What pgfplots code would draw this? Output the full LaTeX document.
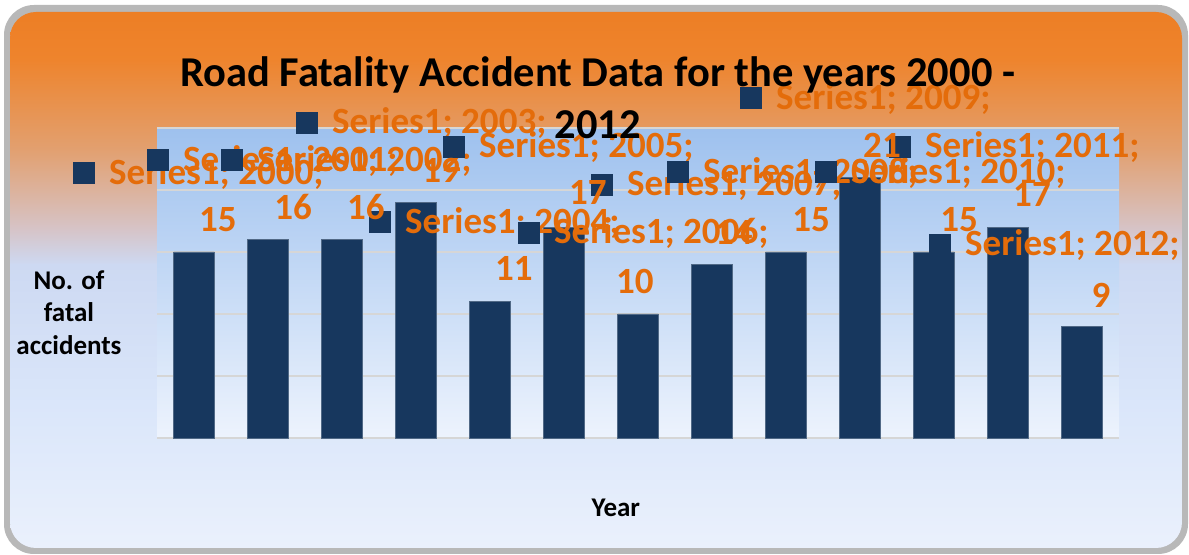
\documentclass[border=0pt]{standalone}
\usepackage{pgfplots}
\pgfplotsset{compat=1.18}
\usepackage{fontspec}
\setmainfont{Carlito}
\definecolor{navy}{RGB}{23,55,94}
\definecolor{lab}{RGB}{228,108,10}
\definecolor{bgA}{RGB}{237,125,35}
\definecolor{bgB}{RGB}{238,132,45}
\definecolor{bgC}{RGB}{226,160,112}
\definecolor{bgD}{RGB}{214,196,200}
\definecolor{bgE}{RGB}{205,217,242}
\definecolor{bgF}{RGB}{218,230,250}
\definecolor{bgG}{RGB}{235,241,252}
\definecolor{paTop}{RGB}{158,193,238}
\definecolor{paBot}{RGB}{237,243,253}
\newcommand{\lf}{\fontsize{37bp}{42bp}\selectfont\bfseries}
\newcommand{\sq}{\textcolor{navy}{\rule{22bp}{22bp}}\hspace{14bp}}
\begin{document}
\begin{tikzpicture}[x=1bp,y=1bp]
\useasboundingbox (0,0) rectangle (1189,555);
\fill[black!28, rounded corners=30bp] (4,1) rectangle (1188,550);
\begin{scope}
\clip[rounded corners=26bp] (10,7) rectangle (1182,543);
\shade[top color=bgA,bottom color=bgB] (0,495) rectangle (1189,555);
\shade[top color=bgB,bottom color=bgC] (0,405) rectangle (1189,495.5);
\shade[top color=bgC,bottom color=bgD] (0,325) rectangle (1189,405.5);
\shade[top color=bgD,bottom color=bgE] (0,290) rectangle (1189,325.5);
\shade[top color=bgE,bottom color=bgF] (0,150) rectangle (1189,290.5);
\shade[top color=bgF,bottom color=bgG] (0,0) rectangle (1189,150.5);
\end{scope}
\begin{axis}[
  at={(157bp,117bp)}, anchor=south west,
  scale only axis, width=962bp, height=310bp,
  xmin=-0.5, xmax=12.5, ymin=0, ymax=25,
  ytick={0,5,...,25}, xtick=\empty, yticklabels={},
  ymajorgrids, grid style={black!16, line width=1.8bp},
  axis line style={draw=none}, major tick length=0pt,
  axis background/.style={top color=paTop, bottom color=paBot},
  clip=false,
  ybar, bar width=0.55,
  xlabel={Year},
  xlabel style={at={(rel axis cs:0.477,-0.226)}, anchor=center, inner sep=0pt, font=\fontsize{27bp}{31bp}\selectfont\bfseries},
  ylabel={No. of\\fatal\\accidents},
  ylabel style={at={(rel axis cs:-0.0915,0.405)}, rotate=-90, anchor=center, align=center, inner sep=0pt, font=\fontsize{27bp}{32.5bp}\selectfont\bfseries},
  title={Road Fatality Accident Data for the years 2000 -\\2012},
  title style={at={(rel axis cs:0.458,1.078)}, anchor=center, align=center, inner sep=0pt, font=\fontsize{42.5bp}{52bp}\selectfont\bfseries},
]
\addplot[fill=navy, draw=navy!75!white, line width=0.6bp] coordinates {
 (0,15) (1,16) (2,16) (3,19) (4,11) (5,17) (6,10) (7,14) (8,15) (9,21) (10,15) (11,17) (12,9)};
% data labels: legend key, series and category
\begin{scope}[every node/.style={lab, font=\lf, anchor=base west, inner sep=0pt}]
\node at (axis cs:-1.635,20.48) {\sq Series1; 2000;};
\node at (axis cs:-0.635,21.53) {\sq Series1; 2001;};
\node at (axis cs:0.365,21.53) {\sq Series1; 2002;};
\node at (axis cs:1.378,24.52) {\sq Series1; 2003;};
\node at (axis cs:2.365,16.53) {\sq Series1; 2004;};
\node at (axis cs:3.365,22.58) {\sq Series1; 2005;};
\node at (axis cs:4.378,15.65) {\sq Series1; 2006;};
\node at (axis cs:5.365,19.52) {\sq Series1; 2007;};
\node at (axis cs:6.392,20.56) {\sq Series1; 2008;};
\node at (axis cs:7.378,26.53) {\sq Series1; 2009;};
\node at (axis cs:8.392,20.56) {\sq Series1; 2010;};
\node at (axis cs:9.392,22.58) {\sq Series1; 2011;};
\node at (axis cs:9.932,14.68) {\sq Series1; 2012;};
\end{scope}
\begin{scope}[every node/.style={lab, font=\lf, anchor=center, inner sep=0pt}]
\node at (axis cs:0.324,17.58) {15};
\node at (axis cs:1.338,18.63) {16};
\node at (axis cs:2.324,18.63) {16};
\node at (axis cs:3.338,21.61) {19};
\node at (axis cs:4.324,13.71) {11};
\node at (axis cs:5.324,19.76) {17};
\node at (axis cs:5.959,12.66) {10};
\node at (axis cs:7.297,16.61) {14};
\node at (axis cs:8.338,17.58) {15};
\node at (axis cs:9.297,23.63) {21};
\node at (axis cs:10.338,17.58) {15};
\node at (axis cs:11.324,19.6) {17};
\node at (axis cs:12.257,11.53) {9};
\end{scope}
\end{axis}
\end{tikzpicture}
\end{document}
